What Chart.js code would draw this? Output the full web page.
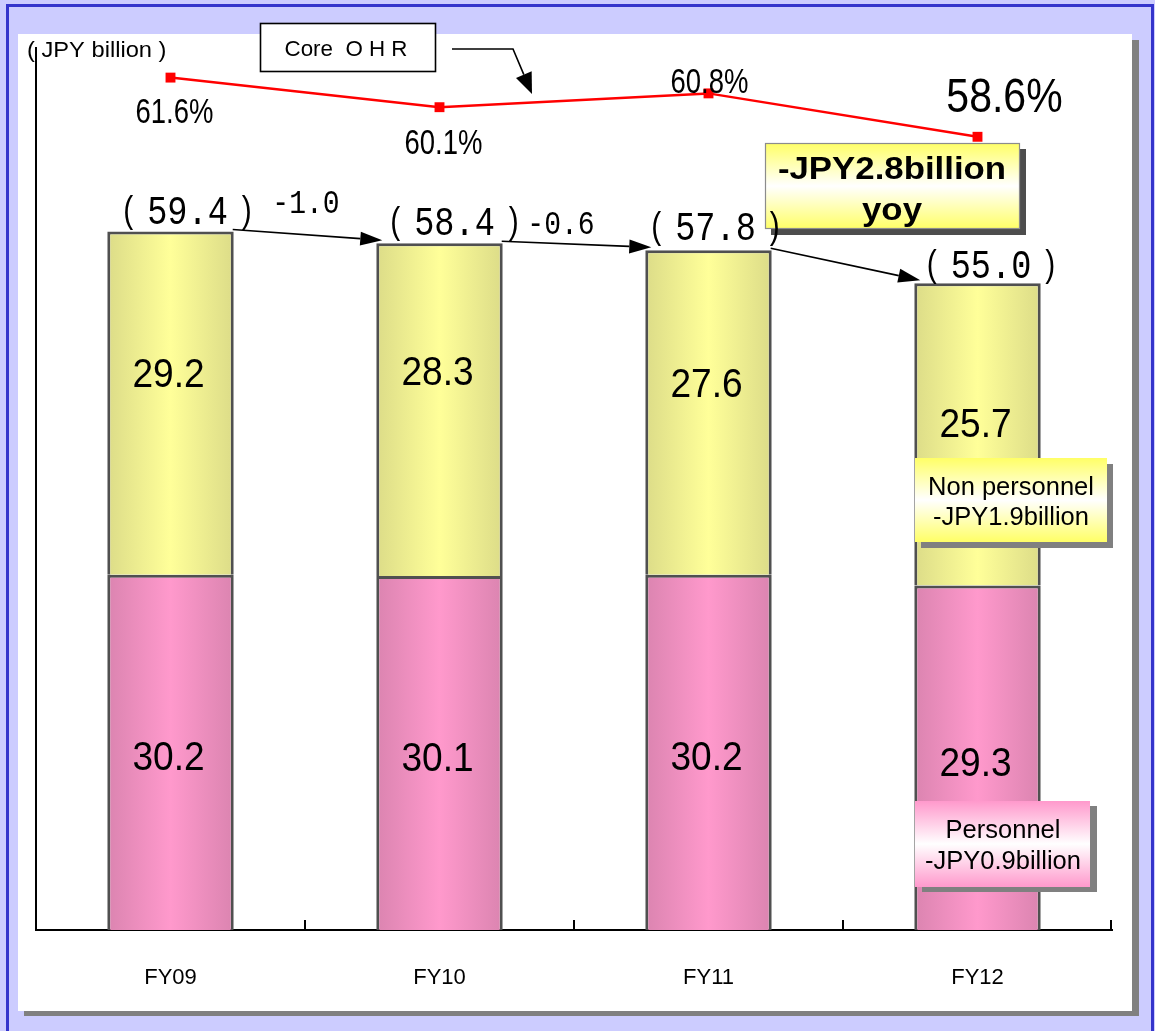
<!DOCTYPE html>
<html><head><meta charset="utf-8">
<script src="https://cdn.jsdelivr.net/npm/chart.js@4.4.0/dist/chart.umd.min.js"></script>
<style>html,body{margin:0;padding:0;background:#ccccff;overflow:hidden}canvas{display:block}</style>
</head><body>
<canvas id="c" width="1155" height="1031"></canvas>
<script>
// ---------- data ----------
const categories = ['FY09', 'FY10', 'FY11', 'FY12'];
const personnel = [30.2, 30.1, 30.2, 29.3];
const nonPersonnel = [29.2, 28.3, 27.6, 25.7];
const totals = [59.4, 58.4, 57.8, 55.0];
const coreOHR = [61.6, 60.1, 60.8, 58.6];
const yoyDiffs = ['-1.0', '-0.6'];
const unitLabel = '( JPY billion )';
const ohrTitle = 'Core  O H R';
const totalChange = ['-JPY2.8billion', 'yoy'];
const nonPersonnelNote = ['Non personnel', '-JPY1.9billion'];
const personnelNote = ['Personnel', '-JPY0.9billion'];

// ---------- styling / layout ----------
const SANS = '"Liberation Sans", Arial, sans-serif';
const MONO = '"Liberation Mono", "DejaVu Sans Mono", monospace';
const BAR_PCT = 0.47;

function drawText(ctx, s, x, y, o) {
  ctx.save();
  ctx.font = `${o.weight || 'normal'} ${o.size}px ${o.family || SANS}`;
  ctx.textAlign = o.align || 'center';
  ctx.textBaseline = 'alphabetic';
  ctx.fillStyle = o.color || '#000';
  const capH = ctx.measureText(o.ref || 'H').actualBoundingBoxAscent;
  let sx = o.sx || 1;
  if (o.w) {
    const m = ctx.measureText(s);
    sx = o.w / (m.actualBoundingBoxLeft + m.actualBoundingBoxRight);
  }
  ctx.translate(x, y);
  ctx.scale(sx, o.sy || 1);
  ctx.fillText(s, 0, capH / 2);
  ctx.restore();
  return sx;
}

function arrow(ctx, pts, headLen, headHalf, lw) {
  ctx.save();
  ctx.strokeStyle = '#000'; ctx.fillStyle = '#000'; ctx.lineWidth = lw;
  const n = pts.length;
  const [x1, y1] = pts[n - 2], [x2, y2] = pts[n - 1];
  const a = Math.atan2(y2 - y1, x2 - x1);
  const bx = x2 - headLen * Math.cos(a), by = y2 - headLen * Math.sin(a);
  ctx.beginPath();
  ctx.moveTo(pts[0][0], pts[0][1]);
  for (let i = 1; i < n - 1; i++) ctx.lineTo(pts[i][0], pts[i][1]);
  ctx.lineTo(bx, by);
  ctx.stroke();
  ctx.beginPath();
  ctx.moveTo(x2, y2);
  ctx.lineTo(bx + headHalf * Math.sin(a), by - headHalf * Math.cos(a));
  ctx.lineTo(bx - headHalf * Math.sin(a), by + headHalf * Math.cos(a));
  ctx.closePath();
  ctx.fill();
  ctx.restore();
}

function box(ctx, x, y, w, h, o) {
  ctx.save();
  ctx.fillStyle = o.shadow;
  ctx.fillRect(x + o.dx, y + o.dy, w, h);
  const g = ctx.createLinearGradient(0, y, 0, y + h);
  g.addColorStop(0, o.edge); g.addColorStop(0.5, '#ffffff'); g.addColorStop(1, o.edge);
  ctx.fillStyle = g;
  ctx.fillRect(x, y, w, h);
  if (o.border) {
    ctx.strokeStyle = o.border; ctx.lineWidth = 1.2;
    ctx.strokeRect(x + 0.5, y + 0.5, w - 1, h - 1);
  }
  ctx.restore();
}

function barGradient(edge, mid) {
  return (c) => {
    const chart = c.chart;
    if (!chart.chartArea || c.dataIndex === undefined) return mid;
    const xs = chart.scales.x;
    const cx = xs.getPixelForValue(c.dataIndex);
    const half = (xs.width / categories.length) * BAR_PCT / 2;
    const g = chart.ctx.createLinearGradient(cx - half, 0, cx + half, 0);
    g.addColorStop(0, edge); g.addColorStop(0.5, mid); g.addColorStop(1, edge);
    return g;
  };
}

const backgroundPlugin = {
  id: 'bg',
  beforeDraw(chart) {
    const ctx = chart.ctx, W = chart.width, H = chart.height;
    ctx.save();
    ctx.fillStyle = '#ccccff'; ctx.fillRect(0, 0, W, H);
    ctx.strokeStyle = '#3434cc'; ctx.lineWidth = 3;
    ctx.strokeRect(7.5, 5.5, 1145, 1200);
    ctx.fillStyle = '#808080'; ctx.fillRect(24, 40, 1115, 976);
    ctx.fillStyle = '#ffffff'; ctx.fillRect(18, 34, 1114, 977);
    ctx.restore();
  }
};

const annotationPlugin = {
  id: 'notes',
  afterDatasetsDraw(chart) {
    const ctx = chart.ctx;
    const xs = chart.scales.x;
    const area = chart.chartArea;
    const pinkBars = chart.getDatasetMeta(0).data;
    const yellowBars = chart.getDatasetMeta(1).data;
    const ohrPts = chart.getDatasetMeta(2).data;

    // upward tick marks on the category axis
    ctx.save();
    ctx.strokeStyle = '#000'; ctx.lineWidth = 2;
    for (let i = 0; i < categories.length; i++) {
      const bx = i < categories.length - 1
        ? (xs.getPixelForValue(i) + xs.getPixelForValue(i + 1)) / 2
        : area.right - 1;
      ctx.beginPath(); ctx.moveTo(Math.round(bx), area.bottom); ctx.lineTo(Math.round(bx), area.bottom - 10); ctx.stroke();
    }
    ctx.restore();

    // unit label
    drawText(ctx, unitLabel, 27, 49, {size: 22, align: 'left', w: 137});

    // Core OHR callout
    ctx.save();
    ctx.fillStyle = '#fff'; ctx.fillRect(260, 23, 175, 48);
    ctx.strokeStyle = '#000'; ctx.lineWidth = 1.6; ctx.strokeRect(260.5, 23.5, 175, 48);
    ctx.restore();
    drawText(ctx, ohrTitle, 346, 48, {size: 22, w: 121});
    arrow(ctx, [[452, 49], [513, 49], [532, 94]], 21, 8.5, 1.6);

    // total cost change box
    box(ctx, 765, 143, 255, 86, {shadow: '#4d4d4d', dx: 6, dy: 6, edge: '#ffff66', border: '#8c8c8c'});
    const sxB = drawText(ctx, totalChange[0], 892, 167.5, {size: 31, weight: 'bold', w: 226});
    drawText(ctx, totalChange[1], 892, 209, {size: 31, weight: 'bold', sx: sxB});

    // non personnel note
    box(ctx, 915, 458, 192, 84, {shadow: '#808080', dx: 6, dy: 6, edge: '#ffff66'});
    drawText(ctx, nonPersonnelNote[0], 1011, 486, {size: 25.5});
    drawText(ctx, nonPersonnelNote[1], 1011, 516, {size: 25.5});

    // personnel note
    box(ctx, 915, 801, 175, 86, {shadow: '#808080', dx: 7, dy: 5, edge: '#ff99cc'});
    drawText(ctx, personnelNote[0], 1003, 829, {size: 25.5});
    drawText(ctx, personnelNote[1], 1003, 860, {size: 25.5});

    // segment value labels
    const yellowDy = [-31, -40, -31, -12];
    for (let i = 0; i < categories.length; i++) {
      const p = pinkBars[i], y = yellowBars[i];
      drawText(ctx, personnel[i].toFixed(1), p.x - 2, (p.y + p.base) / 2 + 3, {size: 36, sy: 1.15, sx: 1.03, ref: '0'});
      drawText(ctx, nonPersonnel[i].toFixed(1), y.x - 2, (y.y + y.base) / 2 + yellowDy[i], {size: 36, sy: 1.15, sx: 1.03, ref: '0'});
    }

    // OHR labels
    const ohrOff = [[4, 33], [4, 35], [1, -12], [27, -41]];
    for (let i = 0; i < categories.length; i++) {
      const pt = ohrPts[i];
      const big = i === categories.length - 1;
      drawText(ctx, coreOHR[i].toFixed(1) + '%', pt.x + ohrOff[i][0], pt.y + ohrOff[i][1],
        {size: big ? 41 : 27.5, sy: big ? 1.16 : 1.27, ref: '0'});
    }

    // arrows between bar tops
    for (let i = 0; i < categories.length - 1; i++) {
      const a = yellowBars[i], b = yellowBars[i + 1];
      arrow(ctx, [[a.x + a.width / 2 - 1, a.y - 2], [b.x - b.width / 2 + 6, b.y - 3]], 22, 7, 1.6);
    }

    // totals in parentheses
    const totOff = [[17, -21.5], [15, -22], [7, -24], [13.5, -19]];
    for (let i = 0; i < categories.length; i++) {
      const b = yellowBars[i];
      const cx = b.x + totOff[i][0], cy = b.y + totOff[i][1];
      const s = totals[i].toFixed(1);
      drawText(ctx, s, cx, cy, {size: 30, family: MONO, sx: 1.12, sy: 1.36, ref: '0'});
      const half = s.length * 0.6 * 30 * 1.12 / 2;
      drawText(ctx, '(', cx - half - 19, cy, {size: 30, sy: 1.22});
      drawText(ctx, ')', cx + half + 19, cy, {size: 30, sy: 1.22});
    }

    // year-on-year differences
    const diffOff = [[1, -35], [-13, -24]];
    for (let i = 0; i < yoyDiffs.length; i++) {
      const mx = (xs.getPixelForValue(i) + xs.getPixelForValue(i + 1)) / 2;
      const my = (yellowBars[i].y + yellowBars[i + 1].y) / 2;
      drawText(ctx, yoyDiffs[i], mx + diffOff[i][0], my + diffOff[i][1], {size: 26, family: MONO, sx: 1.08, sy: 1.3, ref: '0'});
    }
  }
};

new Chart(document.getElementById('c'), {
  data: {
    labels: categories,
    datasets: [
      {
        type: 'bar', label: 'Personnel', data: personnel, yAxisID: 'y', order: 2,
        backgroundColor: barGradient('rgb(219,132,176)', 'rgb(255,153,204)'),
        borderColor: '#505050', borderWidth: 3,
        barPercentage: BAR_PCT, categoryPercentage: 1
      },
      {
        type: 'bar', label: 'Non personnel', data: nonPersonnel, yAxisID: 'y', order: 2,
        backgroundColor: barGradient('rgb(220,220,136)', 'rgb(255,255,153)'),
        borderColor: '#505050', borderWidth: 3,
        barPercentage: BAR_PCT, categoryPercentage: 1
      },
      {
        type: 'line', label: 'Core OHR', data: coreOHR, yAxisID: 'y2', order: 0,
        borderColor: '#ff0000', borderWidth: 2.5, tension: 0, fill: false,
        pointStyle: 'rect', pointRadius: 7, pointBackgroundColor: '#ff0000',
        pointBorderColor: '#ff0000', pointBorderWidth: 0
      }
    ]
  },
  options: {
    responsive: false,
    animation: false,
    events: [],
    layout: {padding: {left: 36, top: 48, right: 43, bottom: 41}},
    plugins: {legend: {display: false}, tooltip: {enabled: false}},
    scales: {
      x: {
        stacked: true, offset: true,
        grid: {display: false},
        border: {display: true, color: '#000', width: 2},
        ticks: {color: '#000', font: {family: 'Liberation Sans', size: 22}, padding: 27, maxRotation: 0},
        afterFit(s) { s.height = 60; }
      },
      y: {
        stacked: true, position: 'left', min: 0, max: 75,
        grid: {display: false},
        ticks: {display: false},
        border: {display: true, color: '#000', width: 2},
        afterFit(s) { s.width = 0; }
      },
      y2: {
        display: false, position: 'right', min: 18.4, max: 63.1
      }
    }
  },
  plugins: [backgroundPlugin, annotationPlugin]
});
</script>
</body></html>
